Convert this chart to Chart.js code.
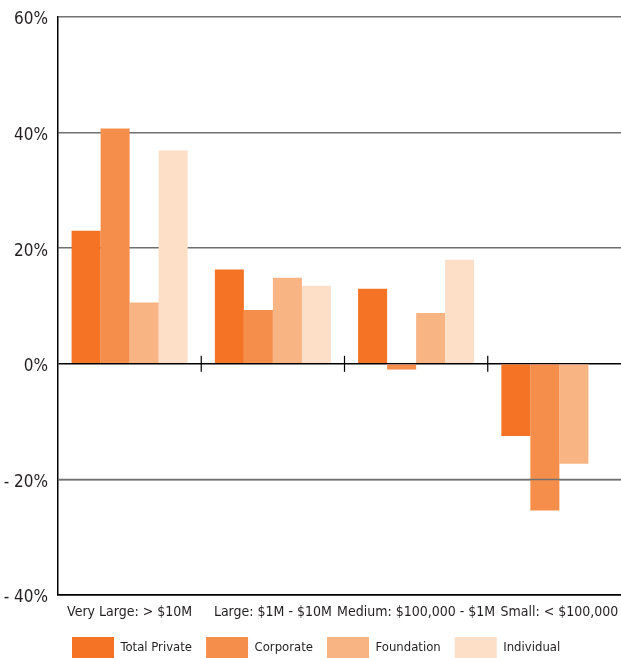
<!DOCTYPE html>
<html lang="en">
<head>
    <meta charset="UTF-8">
    <title>Change in Giving by Size of Organization</title>
    <script src="https://cdn.jsdelivr.net/npm/chart.js"></script>
    <style>
        body {
            margin: 0;
            padding: 0;
            background-color: #ffffff;
            overflow: hidden;
        }

        .chart-wrapper {
            position: relative;
            width: 640px;
            height: 668px;
        }
    </style>
</head>
<body>
    <div class="chart-wrapper">
        <canvas id="givingChart"></canvas>
    </div>
    <script>
        const categories = ['Very Large: > $10M', 'Large: $1M - $10M', 'Medium: $100,000 - $1M', 'Small: < $100,000'];

        // percent change per group
        const totalPrivate = [23.0, 16.3, 13.0, -12.5];
        const corporate = [40.7, 9.3, -1.0, -25.4];
        const foundation = [10.6, 14.9, 8.8, -17.3];
        const individual = [36.9, 13.5, 18.0, null];

        const yTicks = [-40, -20, 0, 20, 40, 60];

        const fontFamily = "'Liberation Sans Narrow', 'DejaVu Sans Condensed', 'Roboto Condensed', Roboto, sans-serif";
        const textColor = '#231f20';
        const gridColor = '#707070';

        // cross marks on the zero line between groups, and the negative
        // gridlines redrawn on top of the bars
        const overlayLines = {
            id: 'overlayLines',
            afterDatasetsDraw(chart) {
                const x = chart.scales.x;
                const y = chart.scales.y;
                const area = chart.chartArea;
                const ctx = chart.ctx;
                const zeroY = y.getPixelForValue(0);
                ctx.save();

                ctx.strokeStyle = gridColor;
                ctx.lineWidth = 1.5;
                yTicks.filter(v => v < 0 && v > y.min).forEach(v => {
                    const py = y.getPixelForValue(v);
                    ctx.beginPath();
                    ctx.moveTo(area.left, py);
                    ctx.lineTo(area.right, py);
                    ctx.stroke();
                });

                ctx.strokeStyle = '#000000';
                ctx.lineWidth = 1.2;
                for (let i = 1; i < categories.length; i++) {
                    const px = (x.getPixelForTick(i - 1) + x.getPixelForTick(i)) / 2;
                    ctx.beginPath();
                    ctx.moveTo(px, zeroY - 8);
                    ctx.lineTo(px, zeroY + 8);
                    ctx.stroke();
                }
                ctx.restore();
            }
        };

        const ctx = document.getElementById('givingChart').getContext('2d');
        new Chart(ctx, {
            type: 'bar',
            data: {
                labels: categories,
                datasets: [
                    { label: 'Total Private', data: totalPrivate, backgroundColor: '#f47324' },
                    { label: 'Corporate', data: corporate, backgroundColor: '#f68e4b' },
                    { label: 'Foundation', data: foundation, backgroundColor: '#f9b484' },
                    { label: 'Individual', data: individual, backgroundColor: '#fddfc7' }
                ]
            },
            options: {
                responsive: true,
                maintainAspectRatio: false,
                animation: false,
                layout: {
                    padding: { left: 0, right: 9, top: 17, bottom: 0 }
                },
                datasets: {
                    bar: {
                        categoryPercentage: 0.81,
                        barPercentage: 1.0,
                        borderWidth: 0
                    }
                },
                scales: {
                    x: {
                        afterFit: (scale) => { scale.height = 28; },
                        grid: { display: false },
                        border: { color: '#000000', width: 1.5 },
                        ticks: {
                            color: textColor,
                            padding: 1,
                            maxRotation: 0,
                            autoSkip: false,
                            font: { family: fontFamily, size: 14 }
                        }
                    },
                    y: {
                        min: -40,
                        max: 60,
                        afterFit: (scale) => {
                            scale.width = 58;
                            // the top label may run above the plot edge
                            scale.paddingTop = 0;
                            scale.paddingBottom = 0;
                        },
                        afterBuildTicks: (scale) => {
                            scale.ticks = yTicks.map(v => ({ value: v }));
                        },
                        border: { color: '#000000', width: 1.5 },
                        grid: {
                            drawTicks: false,
                            color: (c) => (c.tick && (c.tick.value === 0 || c.tick.value === -40)) ? '#000000' : gridColor,
                            lineWidth: 1.5
                        },
                        ticks: {
                            color: textColor,
                            padding: 10,
                            labelOffset: 3,
                            autoSkip: false,
                            font: { family: fontFamily, size: 17 },
                            callback: (v) => v < 0 ? '- ' + Math.abs(v) + '%' : v + '%'
                        }
                    }
                },
                plugins: {
                    tooltip: { enabled: false },
                    legend: {
                        position: 'bottom',
                        align: 'start',
                        fullSize: false,
                        labels: {
                            boxWidth: 42,
                            boxHeight: 21,
                            padding: 14,
                            color: textColor,
                            font: { family: fontFamily, size: 13 }
                        }
                    }
                }
            },
            plugins: [overlayLines]
        });
    </script>
</body>
</html>
